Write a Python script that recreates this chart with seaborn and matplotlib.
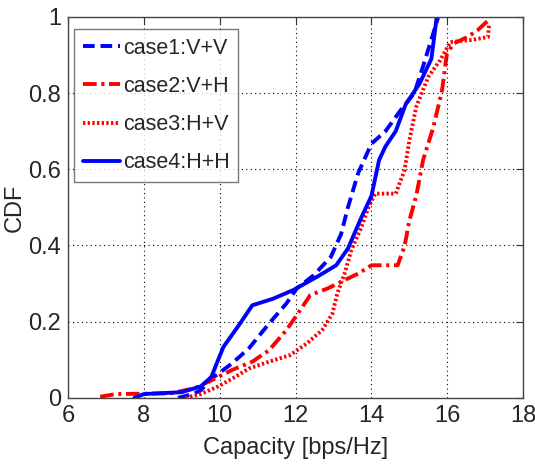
import matplotlib
matplotlib.use("Agg")
import matplotlib.pyplot as plt
import seaborn as sns
import pandas as pd

labels = ["case1:V+V", "case2:V+H", "case3:H+V", "case4:H+H"]

case1_x = [8.9, 9.3, 9.5, 9.78, 10.32, 10.77, 11.3, 11.76, 12.03, 12.48, 12.93, 13.2, 13.38, 13.65, 14.0, 14.37, 14.77, 15.13, 15.36, 15.67, 15.76]
case1_y = [0.0, 0.01, 0.02, 0.05, 0.09, 0.13, 0.195, 0.248, 0.287, 0.322, 0.37, 0.43, 0.50, 0.59, 0.667, 0.70, 0.755, 0.80, 0.87, 0.97, 1.0]

case2_x = [6.85, 7.26, 8.7, 9.33, 9.78, 10.32, 10.86, 11.3, 11.76, 12.03, 12.39, 12.84, 13.29, 13.65, 14.0, 14.69, 14.87, 15.0, 15.18, 15.36, 15.63, 15.86, 15.99, 16.17, 16.53, 16.8, 17.07]
case2_y = [0.003, 0.01, 0.012, 0.025, 0.046, 0.073, 0.095, 0.125, 0.178, 0.217, 0.27, 0.287, 0.309, 0.326, 0.348, 0.348, 0.397, 0.466, 0.53, 0.624, 0.71, 0.807, 0.904, 0.93, 0.947, 0.965, 0.99]

case3_x = [9.1, 9.5, 9.96, 10.41, 10.77, 11.3, 11.85, 12.3, 12.7, 12.97, 13.1, 13.29, 13.47, 13.74, 13.92, 14.1, 14.64, 14.87, 15.0, 15.18, 15.5, 15.81, 16.08, 16.62, 17.07, 17.1]
case3_y = [0.0, 0.01, 0.03, 0.055, 0.077, 0.095, 0.112, 0.143, 0.178, 0.221, 0.274, 0.326, 0.388, 0.449, 0.50, 0.536, 0.536, 0.597, 0.676, 0.764, 0.843, 0.886, 0.934, 0.939, 0.947, 0.978]

case4_x = [7.75, 8.0, 9.0, 9.5, 9.78, 9.96, 10.1, 10.5, 10.86, 11.4, 11.94, 12.57, 13.07, 13.38, 13.74, 14.0, 14.2, 14.37, 14.64, 14.9, 15.27, 15.58, 15.72]
case4_y = [0.0, 0.01, 0.015, 0.03, 0.055, 0.10, 0.134, 0.19, 0.243, 0.26, 0.283, 0.318, 0.348, 0.392, 0.475, 0.53, 0.624, 0.66, 0.70, 0.77, 0.825, 0.89, 1.0]

x_ticks = [6, 8, 10, 12, 14, 16, 18]
y_ticks = [0, 0.2, 0.4, 0.6, 0.8, 1]
y_tick_labels = ["0", "0.2", "0.4", "0.6", "0.8", "1"]

sns.set_style("white")
plt.rcParams["font.family"] = ["Liberation Sans", "DejaVu Sans"]

fig = plt.figure(figsize=(5.35, 4.67), dpi=100)
ax = fig.add_axes([0.127, 0.148, 0.851, 0.816])

series = [
    (case1_x, case1_y, "#0000ff", (0, (3.0, 1.5))),
    (case2_x, case2_y, "#ff0000", (0, (3.5, 1.2, 0.8, 1.2))),
    (case3_x, case3_y, "#ff0000", (0, (0.6, 0.6))),
    (case4_x, case4_y, "#0000ff", "-"),
]

for lab, (xs, ys, col, ls) in zip(labels, series):
    df = pd.DataFrame({"x": xs, "y": ys})
    sns.lineplot(data=df, x="x", y="y", sort=False, estimator=None, ax=ax,
                 color=col, linewidth=2.8, linestyle=ls, label=lab)

ax.set_xlim(6, 18)
ax.set_ylim(0, 1)
ax.set_xticks(x_ticks)
ax.set_yticks(y_ticks)
ax.set_yticklabels(y_tick_labels)
ax.grid(True, linestyle=(0, (1, 3)), color="black", linewidth=0.8)
ax.tick_params(direction="in", length=5, top=True, right=True,
               labelsize=17, color="#333333", pad=5)
for s in ax.spines.values():
    s.set_color("#444444")
    s.set_linewidth(1.0)
ax.set_xlabel("Capacity [bps/Hz]", fontsize=17, labelpad=7)
ax.set_ylabel("CDF", fontsize=17, labelpad=0)
ax.yaxis.set_label_coords(-0.093, 0.5)

leg = ax.legend(loc="upper left", bbox_to_anchor=(0.0, 0.985), fontsize=15.5,
                frameon=True, fancybox=False, handlelength=1.7,
                handletextpad=0.15, borderpad=0.4, labelspacing=0.8,
                borderaxespad=0.3)
leg.get_frame().set_edgecolor("#555555")
leg.get_frame().set_linewidth(1.0)

fig.savefig("out.png", dpi=100)
